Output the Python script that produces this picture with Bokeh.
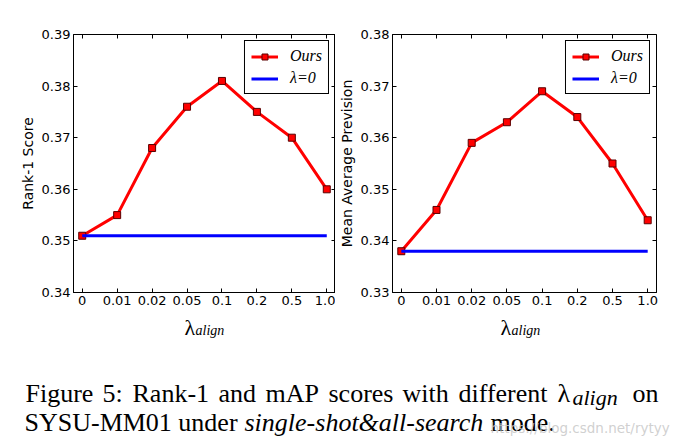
from bokeh.plotting import figure
from bokeh.layouts import column, row
from bokeh.models import (FixedTicker, LinearAxis, Label, Legend, LegendItem, Range1d,
                          PrintfTickFormatter, CustomJSTickFormatter, ColumnDataSource)
from bokeh.embed import file_html
from bokeh.resources import INLINE

lambda_labels = ["0", "0.01", "0.02", "0.05", "0.1", "0.2", "0.5", "1.0"]
rank1_ours = [0.351, 0.355, 0.368, 0.376, 0.381, 0.375, 0.370, 0.360]
rank1_baseline = 0.351
map_ours = [0.338, 0.346, 0.359, 0.363, 0.369, 0.364, 0.355, 0.344]
map_baseline = 0.338
rank1_yticks = [0.34, 0.35, 0.36, 0.37, 0.38, 0.39]
map_yticks = [0.33, 0.34, 0.35, 0.36, 0.37, 0.38]
series_names = ["Ours", "λ=0"]
y_titles = ["Rank-1 Score", "Mean Average Prevision"]

TICK_FONT = "DejaVu Sans"
SERIF = "Liberation Serif"
ROW_H = 34 + 258 + 19
TOTAL_H = 439


def make_panel(values, baseline, yticks, ylabel, fw, border_left, border_right):
    xs = list(range(len(lambda_labels)))
    p = figure(frame_width=fw, frame_height=258,
               x_range=Range1d(-0.25, len(xs) - 0.75),
               y_range=Range1d(yticks[0], yticks[-1]),
               output_backend="svg", toolbar_location=None,
               min_border_left=border_left, min_border_right=border_right,
               min_border_top=34, min_border_bottom=19)
    p.xgrid.visible = False
    p.ygrid.visible = False
    p.outline_line_color = "black"
    p.outline_line_alpha = 1.0
    p.outline_line_width = 1
    p.background_fill_color = "white"
    p.border_fill_color = "white"

    p.xaxis.ticker = FixedTicker(ticks=xs)
    p.xaxis.major_label_overrides = {i: lab for i, lab in enumerate(lambda_labels)}
    p.yaxis.ticker = FixedTicker(ticks=yticks)
    p.yaxis.formatter = PrintfTickFormatter(format="%.2f")
    for ax in p.axis:
        ax.major_tick_in = 4
        ax.major_tick_out = 0
        ax.minor_tick_in = 0
        ax.minor_tick_out = 0
        ax.axis_line_color = "black"
        ax.major_tick_line_color = "black"
        ax.major_label_text_font = TICK_FONT
        ax.major_label_text_font_size = "13px"
        ax.major_label_text_color = "black"
        ax.major_label_standoff = 3
    p.yaxis.axis_label = ylabel
    p.yaxis.axis_label_text_font = TICK_FONT
    p.yaxis.axis_label_text_font_size = "14px"
    p.yaxis.axis_label_text_font_style = "normal"
    p.yaxis.axis_label_text_color = "black"
    p.yaxis.axis_label_standoff = 3

    top = LinearAxis(ticker=FixedTicker(ticks=xs), formatter=CustomJSTickFormatter(code="return ''"),
                     major_tick_in=4, major_tick_out=0, minor_tick_in=0, minor_tick_out=0,
                     major_label_standoff=0, axis_line_color=None,
                     major_label_text_font_size="1px")
    right = LinearAxis(ticker=FixedTicker(ticks=yticks), formatter=CustomJSTickFormatter(code="return ''"),
                       major_tick_in=4, major_tick_out=0, minor_tick_in=0, minor_tick_out=0,
                       major_label_standoff=0, axis_line_color=None,
                       major_label_text_font_size="1px")
    p.add_layout(top, "above")
    p.add_layout(right, "right")

    src = ColumnDataSource(dict(x=xs, y=values, base=[baseline] * len(xs)))
    r_line = p.line("x", "y", source=src, line_color="#ff0000", line_width=3)
    r_pts = p.scatter("x", "y", source=src, marker="square", size=7,
                      fill_color="#ff0000", line_color="#5a0000", line_width=1)
    r_base = p.line("x", "base", source=src, line_color="#0000ff", line_width=3)

    legend = Legend(items=[LegendItem(label=series_names[0], renderers=[r_line, r_pts]),
                           LegendItem(label=series_names[1], renderers=[r_base])],
                    location="top_right", margin=6, padding=6, spacing=4,
                    glyph_width=27, glyph_height=15, label_standoff=12,
                    label_height=15,
                    label_text_font=SERIF, label_text_font_style="italic",
                    label_text_font_size="16px", label_text_color="black",
                    border_line_color="black", border_line_width=1, border_line_alpha=1.0,
                    background_fill_color="white", background_fill_alpha=1.0)
    p.add_layout(legend)
    return p


p1 = make_panel(rank1_ours, rank1_baseline, rank1_yticks, y_titles[0], 262, 73, 0)
p2 = make_panel(map_ours, map_baseline, map_yticks, y_titles[1], 264, 53, 23)

# strip below the two panels: x-axis titles and the figure caption
STRIP_H = TOTAL_H - ROW_H
cap = figure(frame_width=675, frame_height=STRIP_H, x_range=Range1d(0, 675),
             y_range=Range1d(0, STRIP_H),
             output_backend="svg", toolbar_location=None, min_border=0,
             x_axis_location=None, y_axis_location=None)
cap.xgrid.visible = False
cap.ygrid.visible = False
cap.outline_line_color = None


def yb(img_y):
    # baseline position measured from the top of the window
    return TOTAL_H - img_y


# x-axis titles (lambda with subscript) under each panel
for lx in (184, 500):
    cap.add_layout(Label(x=lx, y=yb(327), text="λ", text_font=SERIF, text_font_size="22px",
                         text_baseline="alphabetic", text_color="black"))
    cap.add_layout(Label(x=lx + 11, y=yb(329.5), text="align", text_font=SERIF,
                         text_font_style="italic", text_font_size="14px",
                         text_baseline="alphabetic", text_color="black"))

L1 = yb(393)
L2 = yb(421.5)
pieces = [
    ("Figure", 25, L1, "normal", "26px"),
    ("5:", 102, L1, "normal", "26px"),
    ("Rank-1", 132, L1, "normal", "26px"),
    ("and", 218, L1, "normal", "26px"),
    ("mAP", 265, L1, "normal", "26px"),
    ("scores", 328, L1, "normal", "26px"),
    ("with", 402, L1, "normal", "26px"),
    ("different", 458, L1, "normal", "26px"),
    ("λ", 557, L1, "normal", "26px"),
    ("align", 572, L1 - 3.5, "italic", "22px"),
    ("on", 632, L1, "normal", "26px"),
    ("SYSU-MM01 under", 24, L2, "normal", "26px"),
    ("single-shot&all-search", 244, L2, "italic", "26px"),
    ("mode.", 490, L2, "normal", "26px"),
]
for txt, x, y, style, size in pieces:
    cap.add_layout(Label(x=x, y=y, text=txt, text_font=SERIF, text_font_style=style,
                         text_font_size=size, text_baseline="alphabetic", text_color="black"))
cap.add_layout(Label(x=490, y=yb(427), text="https://blog.csdn.net/rytyy", text_font="DejaVu Sans",
                     text_font_size="13.5px", text_baseline="alphabetic", text_color="#c8c8c8",
                     text_alpha=0.85))

layout = column(row(p1, p2), cap)
open("out.html", "w").write(file_html(layout, INLINE))
